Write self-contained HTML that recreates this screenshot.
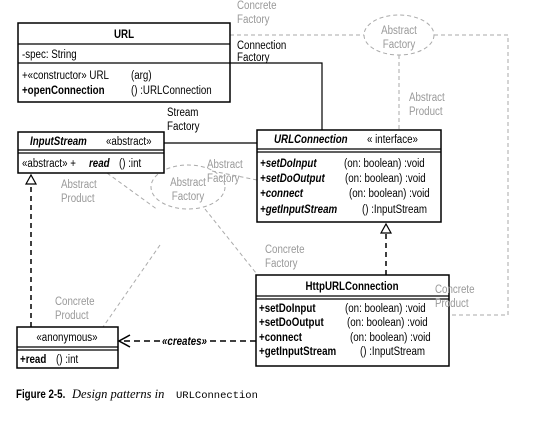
<!DOCTYPE html>
<html><head><style>
html,body{margin:0;padding:0;background:#fff;}
svg{display:block;}
text{font-family:"Liberation Sans",sans-serif;font-size:12.2px;fill:#000;transform-box:fill-box;transform-origin:0 0;transform:scaleX(.8);}
text.m{transform-origin:50% 0;}
text.n{transform:none;}
.g{fill:#999;}
.b{font-weight:bold;}
.i{font-style:italic;}
.d{stroke:#aaa;stroke-width:1;stroke-dasharray:4,3;fill:none;}
.k{stroke:#000;stroke-width:1.5;fill:#fff;}
.l{stroke:#000;stroke-width:1.2;fill:none;}
</style></head><body>
<svg width="546" height="423" viewBox="0 0 546 423">
<path class="d" d="M230 35 H364"/>
<ellipse class="d" cx="399" cy="35" rx="35" ry="20"/>
<path class="d" d="M434 35 H508 V315 H449"/>
<path class="d" d="M399 55 V130"/>
<ellipse class="d" cx="188" cy="187" rx="37" ry="22"/>
<path class="d" d="M107 173 L158 210"/>
<path class="d" d="M212 171 L257 180"/>
<path class="d" d="M205 209 L256 273"/>
<path class="d" d="M160 245 L103 327"/>
<path class="l" d="M230 63 H322 V130"/>
<path class="l" d="M164 143 H257"/>
<path d="M386 275 V226" stroke="#000" stroke-width="1.5" stroke-dasharray="5,4" fill="none"/>
<path d="M381 233 L386 224 L391 233 Z" fill="#fff" stroke="#000" stroke-width="1.2"/>
<path d="M31 327 V180" stroke="#000" stroke-width="1.5" stroke-dasharray="5,4" fill="none"/>
<path d="M26 184 L31 175 L36 184 Z" fill="#fff" stroke="#000" stroke-width="1.2"/>
<path d="M256 341 H208 M160 341 H120" stroke="#000" stroke-width="1.5" stroke-dasharray="6,4" fill="none"/>
<path d="M130 335 L119 341 L130 347" stroke="#000" stroke-width="1.5" fill="none"/>
<text x="162" y="345" class="b i">«creates»</text>
<rect class="k" x="18" y="23" width="212" height="79"/>
<path class="l" d="M18 44 H230 M18 63 H230"/>
<text x="124" y="38" class="b m" text-anchor="middle">URL</text>
<text x="22" y="58">-spec: String</text>
<text x="22" y="79">+«constructor»  URL</text><text x="131" y="79">(arg)</text>
<text x="22" y="94" class="b">+openConnection</text><text x="131" y="94">() :URLConnection</text>
<rect class="k" x="18" y="132" width="146" height="41"/>
<path class="l" d="M18 150 H164 M18 153 H164"/>
<text x="30" y="145" class="b i">InputStream</text><text x="106" y="145">«abstract»</text>
<text x="22" y="167">«abstract» +</text><text x="89" y="167" class="b i">read</text><text x="119" y="167">() :int</text>
<rect class="k" x="257" y="130" width="184" height="92"/>
<path class="l" d="M257 149 H441 M257 152 H441"/>
<text x="274" y="143" class="b i">URLConnection</text><text x="367" y="143">« interface»</text>
<text x="260" y="167" class="b i">+setDoInput</text><text x="344" y="167">(on: boolean) :void</text>
<text x="260" y="182" class="b i">+setDoOutput</text><text x="345" y="182">(on: boolean) :void</text>
<text x="260" y="197" class="b i">+connect</text><text x="349" y="197">(on: boolean) :void</text>
<text x="260" y="213" class="b i">+getInputStream</text><text x="362" y="213">() :InputStream</text>
<rect class="k" x="256" y="275" width="193" height="91"/>
<path class="l" d="M256 296 H449 M256 299 H449"/>
<text x="352" y="290" class="b m" text-anchor="middle">HttpURLConnection</text>
<text x="259" y="312" class="b">+setDoInput</text><text x="345" y="312">(on: boolean) :void</text>
<text x="259" y="326" class="b">+setDoOutput</text><text x="347" y="326">(on: boolean) :void</text>
<text x="259" y="341" class="b">+connect</text><text x="350" y="341">(on: boolean) :void</text>
<text x="259" y="355" class="b">+getInputStream</text><text x="360" y="355">() :InputStream</text>
<rect class="k" x="17" y="327" width="101" height="41"/>
<path class="l" d="M17 347 H118 M17 350 H118"/>
<text x="67" y="341" class="m" text-anchor="middle">«anonymous»</text>
<text x="20" y="363" class="b">+read</text><text x="56" y="363">() :int</text>
<text x="237" y="9" class="g">Concrete</text><text x="237" y="23" class="g">Factory</text>
<text x="237" y="49">Connection</text><text x="237" y="61">Factory</text>
<text x="167" y="116">Stream</text><text x="167" y="130">Factory</text>
<text x="399" y="34" class="g m" text-anchor="middle">Abstract</text><text x="399" y="48" class="g m" text-anchor="middle">Factory</text>
<text x="409" y="101" class="g">Abstract</text><text x="409" y="115" class="g">Product</text>
<text x="61" y="188" class="g">Abstract</text><text x="61" y="202" class="g">Product</text>
<text x="207" y="168" class="g">Abstract</text><text x="207" y="182" class="g">Factory</text>
<text x="188" y="186" class="g m" text-anchor="middle">Abstract</text><text x="188" y="200" class="g m" text-anchor="middle">Factory</text>
<text x="265" y="253" class="g">Concrete</text><text x="265" y="267" class="g">Factory</text>
<text x="435" y="293" class="g">Concrete</text><text x="435" y="307" class="g">Product</text>
<text x="55" y="305" class="g">Concrete</text><text x="55" y="319" class="g">Product</text>
<text x="16" y="398" class="b">Figure 2-5.</text>
<text x="72" y="398" class="n" style="font-family:'Liberation Serif',serif;font-style:italic;font-size:12.5px">Design patterns in</text>
<text x="176" y="398" class="n" style="font-family:'Liberation Mono',monospace;font-size:10.5px">URLConnection</text>
</svg>
</body></html>
